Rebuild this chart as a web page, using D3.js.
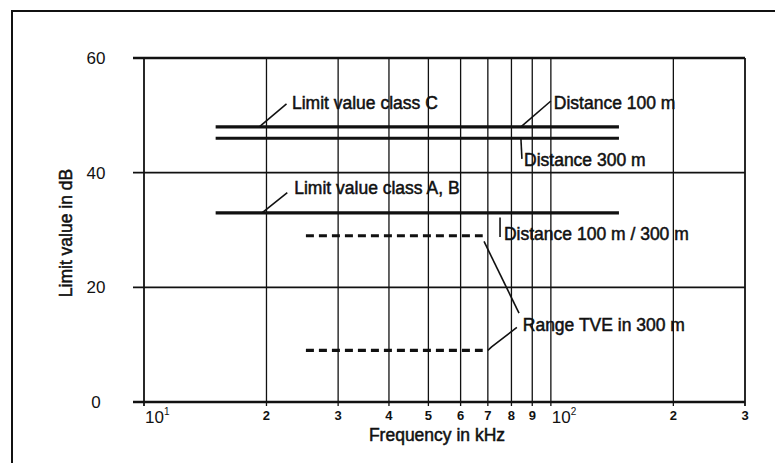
<!DOCTYPE html>
<html>
<head>
<meta charset="utf-8">
<script src="https://cdn.jsdelivr.net/npm/d3@7"></script>
<style>
  body { margin: 0; background: #fff; }
  svg { display: block; }
  text { font-family: "Liberation Sans", Arial, sans-serif; fill: #111; }
</style>
</head>
<body>
<div id="chart"></div>
<script>
// chart data
const yTicks = [0, 20, 40, 60];
const xGrid = [10, 20, 30, 40, 50, 60, 70, 80, 90, 100, 200, 300];
const minorLabels = [
    {f: 20, t: "2"}, {f: 30, t: "3"}, {f: 40, t: "4"}, {f: 50, t: "5"},
    {f: 60, t: "6"}, {f: 70, t: "7"}, {f: 80, t: "8"}, {f: 90, t: "9"},
    {f: 200, t: "2"}, {f: 300, t: "3"}
];
const decadeLabels = [{f: 10, exp: "1"}, {f: 100, exp: "2"}];

// limit lines: value in dB over a frequency range in kHz
const lineValues = [48, 46, 33, 29, 9];
const lineFrom = [15, 15, 15, 25, 25];
const lineTo = [147, 147, 147, 68, 68];
const lineDashed = [false, false, false, true, true];

// annotation labels (kHz, dB)
const labels = [
    {text: "Limit value class C", f: 23.1, v: 51.1},
    {text: "Distance 100 m", f: 101.7, v: 51.1},
    {text: "Distance 300 m", f: 85.9, v: 41.2},
    {text: "Limit value class A, B", f: 23.4, v: 36.2},
    {text: "Distance 100 m / 300 m", f: 76.7, v: 28.2},
    {text: "Range TVE in 300 m", f: 85.3, v: 12.3}
];
// leader lines (kHz, dB)
const leaders = [
    [[19.2, 48], [22.4, 52]],
    [[84.4, 48], [100, 52.5]],
    [[84.4, 46], [84.9, 42.4]],
    [[19.5, 33], [22.5, 36.5]],
    [[75, 32.2], [75, 28.8]],
    [[68.5, 28], [83.5, 15.5]],
    [[70, 9], [71.5, 9.6], [82.5, 13]]
];

const width = 775, height = 463;

const svg = d3.select("#chart").append("svg")
    .attr("width", width)
    .attr("height", height);

const x = d3.scaleLog().domain([10, 300]).range([144, 745]);
const y = d3.scaleLinear().domain([0, 60]).range([402, 58]);

// outer frame (partly cut off in the scan)
svg.append("path")
    .attr("d", `M12,${height}V11H${width}`)
    .attr("fill", "none")
    .attr("stroke", "#111")
    .attr("stroke-width", 2);

// vertical grid
svg.append("g").selectAll("line")
    .data(xGrid)
    .enter().append("line")
    .attr("x1", d => x(d)).attr("x2", d => x(d))
    .attr("y1", y(60)).attr("y2", y(0) + 4)
    .attr("stroke", "#111")
    .attr("stroke-width", d => d === 10 || d === 300 ? 1.8 : 1.3);

// horizontal grid
svg.append("g").selectAll("line")
    .data(yTicks)
    .enter().append("line")
    .attr("x1", x(10) - 11).attr("x2", x(300))
    .attr("y1", d => y(d)).attr("y2", d => y(d))
    .attr("stroke", "#111")
    .attr("stroke-width", d => d === 0 || d === 60 ? 2.6 : 1.6);

// y tick labels
svg.append("g").selectAll("text")
    .data(yTicks)
    .enter().append("text")
    .attr("x", 96)
    .attr("y", d => y(d) + 6)
    .attr("text-anchor", "middle")
    .style("font-size", "17px")
    .text(d => d);

// x decade labels 10^1, 10^2
const dec = svg.append("g").selectAll("text")
    .data(decadeLabels)
    .enter().append("text")
    .attr("x", d => x(d.f) + 1)
    .attr("y", 423)
    .style("font-size", "17px");
dec.append("tspan").text("10");
dec.append("tspan")
    .attr("dy", -8)
    .style("font-size", "10px")
    .text(d => d.exp);

// x minor labels
svg.append("g").selectAll("text")
    .data(minorLabels)
    .enter().append("text")
    .attr("x", d => x(d.f))
    .attr("y", 420)
    .attr("text-anchor", "middle")
    .style("font-size", "13px")
    .style("font-weight", "bold")
    .text(d => d.t);

// axis titles
svg.append("text")
    .attr("x", 437)
    .attr("y", 441)
    .attr("text-anchor", "middle")
    .style("font-size", "17.5px")
    .attr("stroke", "#111")
    .attr("stroke-width", 0.5)
    .text("Frequency in kHz");

svg.append("text")
    .attr("transform", "translate(72,233) rotate(-90)")
    .attr("text-anchor", "middle")
    .style("font-size", "17.5px")
    .attr("stroke", "#111")
    .attr("stroke-width", 0.5)
    .text("Limit value in dB");

// limit lines
svg.append("g").selectAll("line")
    .data(lineValues)
    .enter().append("line")
    .attr("x1", (d, i) => x(lineFrom[i]))
    .attr("x2", (d, i) => x(lineTo[i]))
    .attr("y1", d => y(d)).attr("y2", d => y(d))
    .attr("stroke", "#111")
    .attr("stroke-width", 3.2)
    .attr("stroke-dasharray", (d, i) => lineDashed[i] ? "8,5" : null);

// leader lines
const leaderLine = d3.line().x(d => x(d[0])).y(d => y(d[1]));
svg.append("g").selectAll("path")
    .data(leaders)
    .enter().append("path")
    .attr("d", leaderLine)
    .attr("fill", "none")
    .attr("stroke", "#111")
    .attr("stroke-width", 1.6);

// annotation labels
svg.append("g").selectAll("text")
    .data(labels)
    .enter().append("text")
    .attr("x", d => x(d.f))
    .attr("y", d => y(d.v))
    .style("font-size", "17.5px")
    .attr("stroke", "#111")
    .attr("stroke-width", 0.5)
    .text(d => d.text);
</script>
</body>
</html>
